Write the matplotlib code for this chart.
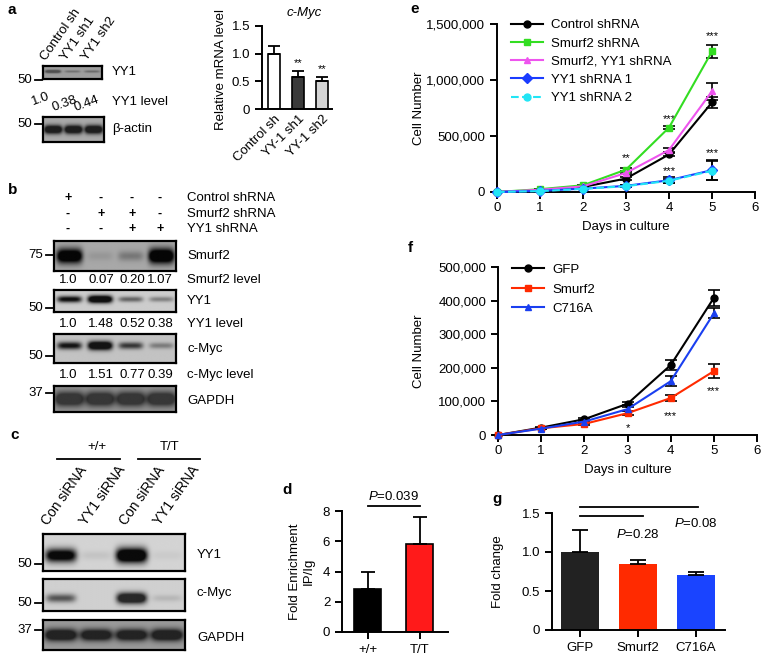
import numpy as np
import matplotlib
matplotlib.use('Agg')
import matplotlib.pyplot as plt
from matplotlib.lines import Line2D
from matplotlib.ticker import FuncFormatter

W, H = 764, 659
plt.rcParams['font.family'] = ['Liberation Sans', 'DejaVu Sans']
plt.rcParams['font.size'] = 9
plt.rcParams['axes.linewidth'] = 1.4
plt.rcParams['xtick.major.width'] = 1.4
plt.rcParams['ytick.major.width'] = 1.4
plt.rcParams['xtick.major.size'] = 5
plt.rcParams['ytick.major.size'] = 5
plt.rcParams['mathtext.fontset'] = 'custom'
plt.rcParams['mathtext.it'] = 'Liberation Sans:italic'
plt.rcParams['mathtext.rm'] = 'Liberation Sans'

# ---- data ----
# panel a
a_lanes = ['Control sh', 'YY1 sh1', 'YY1 sh2']
a_yy1_band = [1.0, 0.38, 0.44]
a_actin_band = [1.0, 1.0, 1.0]
a_levels = ['1.0', '0.38', '0.44']
myc_groups = ['Control sh', 'YY-1 sh1', 'YY-1 sh2']
myc_mrna = [1.0, 0.57, 0.50]
myc_err = [0.13, 0.12, 0.08]
myc_stars = ['', '**', '**']

# panel b
b_ctrl = ['+', '-', '-', '-']
b_smurf = ['-', '+', '+', '-']
b_yy1 = ['-', '-', '+', '+']
b_smurf2_lv = [1.0, 0.07, 0.20, 1.07]
b_yy1_lv = [1.0, 1.48, 0.52, 0.38]
b_myc_lv = [1.0, 1.51, 0.77, 0.39]
b_gapdh_lv = [1.0, 1.0, 1.0, 1.0]

# panel c
c_lanes = ['Con siRNA', 'YY1 siRNA', 'Con siRNA', 'YY1 siRNA']
c_yy1_band = [0.8, 0.05, 1.0, 0.03]
c_myc_band = [0.35, 0.0, 0.75, 0.07]
c_gapdh_band = [1.0, 0.95, 0.95, 1.0]

# panel d
d_groups = ['+/+', 'T/T']
d_vals = [2.85, 5.85]
d_err = [1.15, 1.75]

# panel e
days = [0, 1, 2, 3, 4, 5]
e_ctrl = [0, 15000, 45000, 120000, 335000, 800000]
e_ctrl_err = [0, 3000, 5000, 10000, 15000, 50000]
e_smurf = [0, 25000, 60000, 200000, 575000, 1255000]
e_smurf_err = [0, 3000, 6000, 12000, 15000, 60000]
e_both = [0, 20000, 50000, 170000, 375000, 900000]
e_both_err = [0, 3000, 5000, 10000, 15000, 75000]
e_yy1a = [0, 10000, 30000, 55000, 105000, 195000]
e_yy1a_err = [0, 2000, 4000, 8000, 25000, 90000]
e_yy1b = [0, 8000, 28000, 52000, 100000, 190000]
e_yy1b_err = [0, 2000, 4000, 8000, 20000, 85000]

# panel f
f_gfp = [0, 22000, 47000, 93000, 208000, 408000]
f_gfp_err = [0, 2000, 3000, 5000, 15000, 25000]
f_smurf = [0, 20000, 33000, 65000, 110000, 190000]
f_smurf_err = [0, 2000, 3000, 5000, 10000, 20000]
f_c716 = [0, 19000, 40000, 77000, 160000, 362000]
f_c716_err = [0, 2000, 3000, 5000, 15000, 15000]

# panel g
g_groups = ['GFP', 'Smurf2', 'C716A']
g_vals = [1.0, 0.84, 0.71]
g_err = [0.28, 0.06, 0.04]

fig = plt.figure(figsize=(W / 100, H / 100), dpi=100)


def px_axes(x0, y0, x1, y1):
    return fig.add_axes([x0 / W, 1 - y1 / H, (x1 - x0) / W, (y1 - y0) / H])


def txt(x, y, s, **kw):
    kw.setdefault('va', 'center')
    fig.text(x / W, 1 - y / H, s, **kw)


def hline(x0, x1, y, lw=1.3):
    fig.add_artist(Line2D([x0 / W, x1 / W], [1 - y / H, 1 - y / H], color='black', lw=lw))


def marker(xbox, y, label):
    hline(xbox - 8, xbox - 1, y)
    txt(xbox - 11, y, label, ha='right', fontsize=9.5)


def blot(box, levels, bg, dark, yc=0.5, thick=0.15, width=0.4):
    ax = px_axes(*box)
    nl = len(levels)
    yy = np.linspace(0, 1, 80)[:, None]
    xx = np.linspace(0, nl, 60 * nl)[None, :]
    img = np.full((80, 60 * nl), float(bg))
    top = max(levels)
    for i, lv in enumerate(levels):
        a = lv / top
        prof_x = np.exp(-np.abs((xx - (i + 0.5)) / width) ** 5)
        t = thick * (0.6 + 0.4 * a)
        prof_y = np.exp(-((yy - yc) / t) ** 2)
        img -= (bg - dark) * np.clip(1.6 * a * prof_x * prof_y, 0, 1)
    ax.imshow(img, cmap='gray', vmin=0, vmax=255, aspect='auto',
              interpolation='bilinear', extent=(0, nl, 1, 0))
    ax.set_xticks([])
    ax.set_yticks([])
    for s in ax.spines.values():
        s.set_linewidth(1.6)
    return ax


def style(ax):
    ax.spines['top'].set_visible(False)
    ax.spines['right'].set_visible(False)


# ---- panel a ----
txt(8, 10, 'a', fontsize=11, fontweight='bold')
for x, s in zip([48, 68, 89], a_lanes):
    txt(x, 63, s, rotation=55, ha='left', va='bottom', rotation_mode='anchor', fontsize=9.5)
blot((43, 66, 102, 79), a_yy1_band, 158, 80, yc=0.42, thick=0.12)
marker(43, 80, '50')
txt(112, 72, 'YY1', fontsize=9.5)
for (x, y), s in zip([(41, 99), (65, 104), (87, 104)], a_levels):
    txt(x, y, s, ha='center', rotation=20, fontsize=9.5)
txt(112, 102, 'YY1 level', fontsize=9.5)
blot((43, 117, 104, 142), a_actin_band, 170, 30, yc=0.5, thick=0.17, width=0.45)
marker(43, 124, '50')
txt(112, 129, 'β-actin', fontsize=9.5)

ax = px_axes(262, 26, 332, 109)
style(ax)
xa = np.arange(3)
ax.bar(xa, myc_mrna, width=0.52, color=['white', '#3a3a3a', '#d4d4d4'],
       edgecolor='black', linewidth=1.2)
ax.errorbar(xa, myc_mrna, yerr=[[0] * 3, myc_err], fmt='none', ecolor='black',
            elinewidth=1.3, capsize=4, capthick=1.3)
for x, v, e, s in zip(xa, myc_mrna, myc_err, myc_stars):
    ax.text(x, v + e + 0.05, s, ha='center', va='bottom', fontsize=8)
ax.set_xlim(-0.5, 2.42)
ax.set_ylim(0, 1.5)
ax.set_yticks([0, 0.5, 1.0, 1.5])
ax.set_yticklabels(['0', '0.5', '1.0', '1.5'], fontsize=9.5)
ax.set_xticks(xa)
ax.set_xticklabels(myc_groups, rotation=45, ha='right', rotation_mode='anchor', fontsize=9.5)
ax.tick_params(axis='x', length=0, pad=3)
ax.set_ylabel('Relative mRNA level', fontsize=9.5)
ax.yaxis.set_label_coords(-0.5, 0.47)
ax.set_title('c-Myc', fontstyle='italic', fontsize=9.5, x=0.6, y=1.02)

# ---- panel b ----
txt(8, 190, 'b', fontsize=11, fontweight='bold')
b_x = [68, 101, 132, 160]
for row, y in zip([b_ctrl, b_smurf, b_yy1], [198, 214, 229]):
    for x, s in zip(b_x, row):
        txt(x, y, s, ha='center', fontsize=9, fontweight='bold')
txt(187, 198, 'Control shRNA', fontsize=9.5)
txt(187, 214, 'Smurf2 shRNA', fontsize=9.5)
txt(187, 229, 'YY1 shRNA', fontsize=9.5)

blot((54, 241, 176, 271), b_smurf2_lv, 168, 5, yc=0.5, thick=0.25, width=0.42)
marker(54, 255, '75')
txt(187, 256, 'Smurf2', fontsize=9.5)
for x, v in zip(b_x, b_smurf2_lv):
    txt(x, 280, f'{v:.2f}' if v != 1.0 else '1.0', ha='center', fontsize=9.5)
txt(187, 280, 'Smurf2 level', fontsize=9.5)

blot((54, 290, 176, 312), b_yy1_lv, 205, 15, yc=0.42, thick=0.17)
marker(54, 308, '50')
txt(187, 301, 'YY1', fontsize=9.5)
for x, v in zip(b_x, b_yy1_lv):
    txt(x, 324, f'{v:.2f}' if v != 1.0 else '1.0', ha='center', fontsize=9.5)
txt(187, 324, 'YY1 level', fontsize=9.5)

blot((54, 334, 176, 363), b_myc_lv, 195, 20, yc=0.4, thick=0.15)
marker(54, 356, '50')
txt(187, 349, 'c-Myc', fontsize=9.5)
for x, v in zip(b_x, b_myc_lv):
    txt(x, 375, f'{v:.2f}' if v != 1.0 else '1.0', ha='center', fontsize=9.5)
txt(187, 375, 'c-Myc level', fontsize=9.5)

blot((54, 386, 176, 412), b_gapdh_lv, 150, 55, yc=0.5, thick=0.28, width=0.48)
marker(54, 393, '37')
txt(187, 401, 'GAPDH', fontsize=9.5)

# ---- panel c ----
txt(10, 435, 'c', fontsize=11, fontweight='bold')
txt(97, 447, '+/+', ha='center', fontsize=9.5)
txt(170, 447, 'T/T', ha='center', fontsize=9.5)
hline(57, 120, 459)
hline(138, 200, 459)
for x, s in zip([50, 88, 128, 162], c_lanes):
    txt(x, 528, s, rotation=55, ha='left', va='bottom', rotation_mode='anchor', fontsize=10)
blot((43, 534, 185, 571), c_yy1_band, 212, 10, yc=0.58, thick=0.2, width=0.44)
marker(43, 564, '50')
txt(197, 555, 'YY1', fontsize=9.5)
blot((43, 579, 185, 611), c_myc_band, 208, 40, yc=0.6, thick=0.17, width=0.42)
marker(43, 603, '50')
txt(197, 593, 'c-Myc', fontsize=9.5)
blot((43, 620, 185, 650), c_gapdh_band, 155, 35, yc=0.5, thick=0.2, width=0.46)
marker(43, 630, '37')
txt(197, 638, 'GAPDH', fontsize=9.5)

# ---- panel d ----
txt(282, 490, 'd', fontsize=11, fontweight='bold')
ax = px_axes(342, 511, 448, 632)
style(ax)
xd = np.arange(2)
ax.bar(xd, d_vals, width=0.52, color=['black', '#ff1a1a'], edgecolor='black', linewidth=1.2)
ax.errorbar(xd, d_vals, yerr=[[0, 0], d_err], fmt='none', ecolor='black',
            elinewidth=1.3, capsize=5, capthick=1.3)
ax.set_xlim(-0.5, 1.54)
ax.set_ylim(0, 8)
ax.set_yticks([0, 2, 4, 6, 8])
ax.set_xticks(xd)
ax.set_xticklabels(d_groups, fontsize=9.5)
ax.tick_params(labelsize=9.5)
ax.set_ylabel('Fold Enrichment\nIP/Ig', fontsize=9.5)
ax.yaxis.set_label_coords(-0.26, 0.5)
ax.plot([0, 1], [8.33, 8.33], color='black', lw=1.3, clip_on=False)
ax.text(0.5, 8.55, '$\\mathit{P}$=0.039', ha='center', va='bottom', fontsize=9.5)


def commas(v, pos):
    return f'{int(v):,}'


def growth(ax, series, ymax, ystep, spacing, top):
    style(ax)
    handles = []
    for vals, err, c, m, ls, lab in series:
        ax.errorbar(days, vals, yerr=err, color=c, marker=m, ms=5, lw=1.5, ls=ls,
                    ecolor='black', elinewidth=1.2, capsize=4, capthick=1.2,
                    clip_on=False, zorder=3)
        handles.append(Line2D([], [], color=c, marker=m, ms=5, lw=1.5, ls=ls, label=lab))
    ax.set_xlim(0, 6)
    ax.set_ylim(0, ymax)
    ax.set_xticks(range(7))
    ax.set_yticks(np.arange(0, ymax + 1, ystep))
    ax.yaxis.set_major_formatter(FuncFormatter(commas))
    ax.tick_params(labelsize=9.5)
    ax.tick_params(axis='x', pad=2.5)
    ax.set_xlabel('Days in culture', fontsize=9.5)
    ax.set_ylabel('Cell Number', fontsize=9.5)
    ax.xaxis.set_label_coords(0.5, -0.17)
    ax.yaxis.set_label_coords(-0.28, 0.5)
    ax.legend(handles=handles, loc='upper left', bbox_to_anchor=(0.035, top), frameon=False,
              fontsize=9.5, handlelength=2.4, handletextpad=0.6, labelspacing=spacing,
              borderaxespad=0)


# ---- panel e ----
txt(410, 9, 'e', fontsize=11, fontweight='bold')
ax = px_axes(497, 24, 755, 192)
growth(ax, [
    (e_ctrl, e_ctrl_err, 'black', 'o', '-', 'Control shRNA'),
    (e_smurf, e_smurf_err, '#33dd22', 's', '-', 'Smurf2 shRNA'),
    (e_both, e_both_err, '#ee55ee', '^', '-', 'Smurf2, YY1 shRNA'),
    (e_yy1a, e_yy1a_err, '#1a3cff', 'D', '-', 'YY1 shRNA 1'),
    (e_yy1b, e_yy1b_err, '#22e5f5', 'o', '--', 'YY1 shRNA 2'),
], 1500000, 500000, 0.45, 1.06)
for x, y, s in [(3, 300000, '**'), (4, 650000, '***'), (4, 185000, '***'),
                (5, 1390000, '***'), (5, 350000, '***')]:
    ax.text(x, y, s, ha='center', va='center', fontsize=8)

# ---- panel f ----
txt(408, 248, 'f', fontsize=11, fontweight='bold')
ax = px_axes(498, 267, 757, 435)
growth(ax, [
    (f_gfp, f_gfp_err, 'black', 'o', '-', 'GFP'),
    (f_smurf, f_smurf_err, '#ff2a00', 's', '-', 'Smurf2'),
    (f_c716, f_c716_err, '#1a3ff0', '^', '-', 'C716A'),
], 500000, 100000, 0.55, 1.05)
for x, y, s in [(3, 22000, '*'), (4, 55000, '***'), (5, 130000, '***')]:
    ax.text(x, y, s, ha='center', va='center', fontsize=8)

# ---- panel g ----
txt(492, 499, 'g', fontsize=11, fontweight='bold')
ax = px_axes(552, 513, 725, 630)
style(ax)
xg = np.arange(3)
ax.bar(xg, g_vals, width=0.66, color=['#222222', '#ff2a00', '#1a44ff'])
ax.errorbar(xg, g_vals, yerr=[[0] * 3, g_err], fmt='none', ecolor='black',
            elinewidth=1.3, capsize=6, capthick=1.3)
ax.set_xlim(-0.48, 2.5)
ax.set_ylim(0, 1.5)
ax.set_yticks([0, 0.5, 1.0, 1.5])
ax.set_yticklabels(['0', '0.5', '1.0', '1.5'])
ax.set_xticks(xg)
ax.set_xticklabels(g_groups)
ax.tick_params(labelsize=9.5)
ax.set_ylabel('Fold change', fontsize=9.5)
ax.yaxis.set_label_coords(-0.28, 0.5)
ax.plot([0, 2.03], [1.58, 1.58], color='black', lw=1.3, clip_on=False)
ax.plot([0, 1.08], [1.46, 1.46], color='black', lw=1.3, clip_on=False)
ax.text(1.0, 1.22, '$\\mathit{P}$=0.28', ha='center', va='center', fontsize=9.5)
ax.text(2.0, 1.37, '$\\mathit{P}$=0.08', ha='center', va='center', fontsize=9.5)

fig.savefig('out.png', dpi=100)
